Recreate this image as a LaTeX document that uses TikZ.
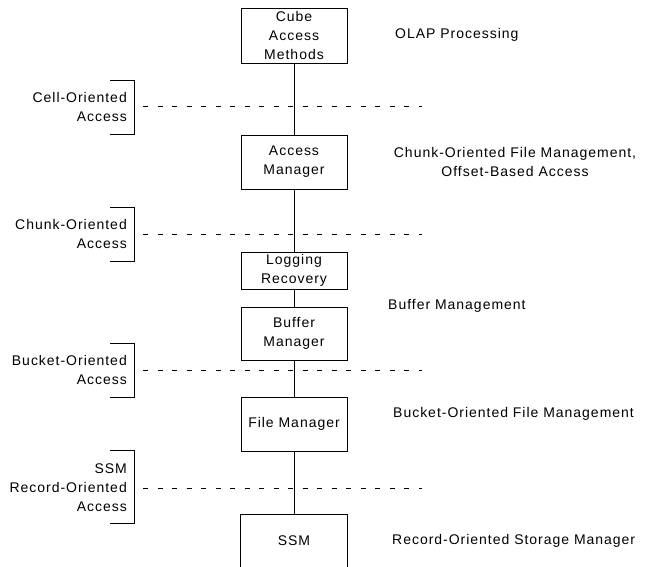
\documentclass[tikz,border=0pt]{standalone}
\usepackage{fontspec}
\setmainfont{Liberation Sans}[LetterSpace=7]
\begin{document}
\begin{tikzpicture}[x=1pt,y=-1pt,
  every node/.style={font=\fontsize{14}{19}\selectfont},
  box/.style={draw,thick,minimum width=106pt,inner sep=1pt,align=center},
  conn/.style={thick},
  sep/.style={thick,dash pattern=on 5pt off 9.5pt},
  brk/.style={thick},
  lbl/.style={align=right,anchor=east,inner sep=0pt},
  rlbl/.style={anchor=west,inner sep=0pt}]
\useasboundingbox (0,0) rectangle (651,567);
\clip (0,0) rectangle (651,567);
% boxes
\node[box,minimum height=55pt] (cube) at (294,35.5) {Cube\\Access\\Methods};
\node[box,minimum height=54pt] (am) at (294,162) {Access\\Manager};
\node[box,minimum height=37pt] (log) at (294,270.5) {Logging\\Recovery};
\node[box,minimum height=53pt] (bm) at (294,333.5) {Buffer\\Manager};
\node[box,minimum height=54pt] (fm) at (294,424) {File Manager};
\node[minimum width=106pt,minimum height=52pt,inner sep=1pt] (ssm) at (294,541) {SSM};
\draw[thick] (ssm.north west) rectangle ([yshift=-30pt]ssm.south east);
% connectors
\draw[conn] (cube.south) -- (am.north);
\draw[conn] (am.south) -- (log.north);
\draw[conn] (log.south) -- (bm.north);
\draw[conn] (bm.south) -- (fm.north);
\draw[conn] (fm.south) -- (ssm.north);
% dashed separators
\foreach \y in {106,234,370,488} \draw[sep] (143,\y) -- (422,\y);
% brackets
\draw[brk] (110,80) -- (134,80) -- (134,134) -- (110,134);
\draw[brk] (110,207) -- (134,207) -- (134,261) -- (110,261);
\draw[brk] (110,343) -- (134,343) -- (134,397) -- (110,397);
\draw[brk] (110,450) -- (134,450) -- (134,523) -- (110,523);
% left labels
\node[lbl] (l1) at (127,106.5) {Cell-Oriented\\Access};
\node[lbl] (l2) at (127,233.5) {Chunk-Oriented\\Access};
\node[lbl] (l3) at (127,369.5) {Bucket-Oriented\\Access};
\node[lbl] (l4) at (127,487.5) {SSM\\Record-Oriented\\Access};
% right labels
\node[rlbl] (r1) at (395,35) {OLAP Processing};
\node[align=center,inner sep=0pt] (r2) at (515,162) {Chunk-Oriented File Management,\\Offset-Based Access};
\node[rlbl] (r3) at (388,306) {Buffer Management};
\node[rlbl] (r4) at (393,414) {Bucket-Oriented File Management};
\node[rlbl] (r5) at (392,541) {Record-Oriented Storage Manager};
\end{tikzpicture}
\end{document}
